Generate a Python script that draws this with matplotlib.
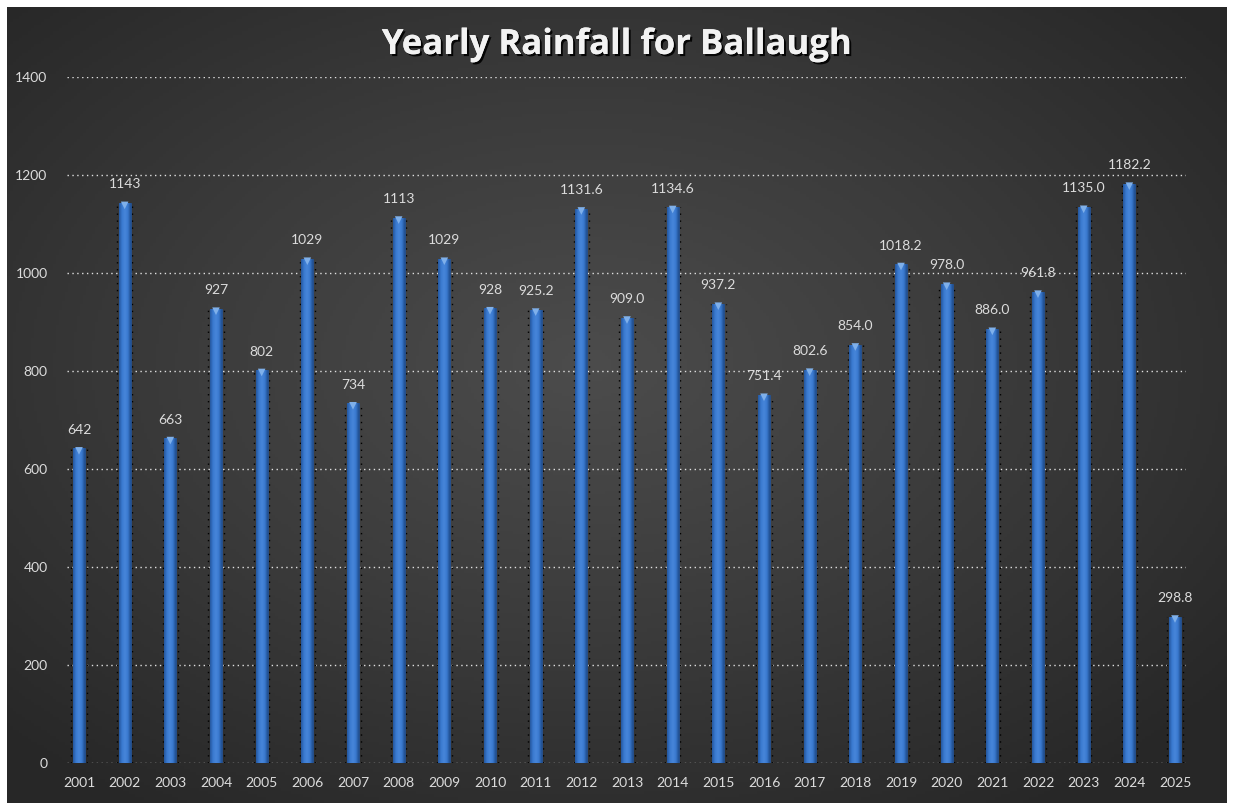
import numpy as np
import matplotlib
matplotlib.use("Agg")
import matplotlib.pyplot as plt
import matplotlib.patheffects as pe
from matplotlib.colors import LinearSegmentedColormap

years = [str(y) for y in range(2001, 2026)]
rainfall = [642, 1143, 663, 927, 802, 1029, 734, 1113, 1029, 928, 925.2, 1131.6,
            909.0, 1134.6, 937.2, 751.4, 802.6, 854.0, 1018.2, 978.0, 886.0,
            961.8, 1135.0, 1182.2, 298.8]
labels = ["642", "1143", "663", "927", "802", "1029", "734", "1113", "1029", "928",
          "925.2", "1131.6", "909.0", "1134.6", "937.2", "751.4", "802.6", "854.0",
          "1018.2", "978.0", "886.0", "961.8", "1135.0", "1182.2", "298.8"]
yticks = [0, 200, 400, 600, 800, 1000, 1200, 1400]

plt.rcParams['font.family'] = ['Lato', 'DejaVu Sans']

W, H = 1234, 811
fig = plt.figure(figsize=(W / 100, H / 100), dpi=100, facecolor='white')

# background panel with radial gradient
bg = fig.add_axes([7 / W, 8 / H, 1220 / W, 796 / H])
bg.set_axis_off()
nx, ny = 400, 260
gx, gy = np.meshgrid(np.linspace(-1, 1, nx), np.linspace(-1, 1, ny))
r = np.sqrt((gx + 0.05) ** 2 + (gy + 0.1) ** 2)
r = np.clip(r / 1.35, 0, 1)
cmap_bg = LinearSegmentedColormap.from_list('bg', ['#4c4c4c', '#3b3b3b', '#272727'])
bg.imshow(r, cmap=cmap_bg, aspect='auto', extent=[0, 1, 0, 1], vmin=0, vmax=1)
bg.set_xlim(0, 1)
bg.set_ylim(0, 1)

# main plot
ax = fig.add_axes([67 / W, 1 - 763 / H, (1186 - 67) / W, (763 - 77) / H])
ax.patch.set_alpha(0)
x = np.arange(len(years))

for s in ax.spines.values():
    s.set_visible(False)

ax.set_yticks(yticks)
ax.set_yticklabels([str(t) for t in yticks])
ax.set_xticks(x)
ax.set_xticklabels(years)
ax.tick_params(axis='both', length=0, colors='#dcdcdc', labelsize=10)
ax.tick_params(axis='y', pad=14)
ax.tick_params(axis='x', pad=10)

for t in yticks:
    ax.axhline(t, color='#e0e0e0', lw=1, ls=(0, (1, 2.5)), zorder=1)

bw = 0.26
# shadow dotted lines
ax.vlines(x - bw / 2 - 0.04, 0, rainfall, colors='black', lw=1, ls=(0, (1, 4)), zorder=2)
ax.vlines(x + bw / 2 + 0.04, 0, rainfall, colors='black', lw=1, ls=(0, (1, 4)), zorder=2)

bars = ax.bar(x, rainfall, width=bw, color='#3470c4', edgecolor='#244f8c', lw=0.6, zorder=3)

cmap_bar = LinearSegmentedColormap.from_list('bar', ['#24569c', '#3a7ad0', '#4786da', '#3a7ad0', '#1f4c8c'])
grad = np.linspace(0, 1, 64).reshape(1, -1)
for b in bars:
    x0, y0 = b.get_x(), b.get_y()
    w, h = b.get_width(), b.get_height()
    im = ax.imshow(grad, cmap=cmap_bar, aspect='auto', extent=[x0, x0 + w, y0, y0 + h],
                   zorder=3.5, interpolation='bicubic')
    im.set_clip_path(b)

ax.set_xlim(-12 / 45.67, 24 + 11 / 45.67)
ax.set_ylim(0, 1400)

# light caps at top of bars
ax.scatter(x, np.array(rainfall) - 5, marker='v', s=30, color='#7fb0ea', edgecolors='none', zorder=4)

for xi, v, lab in zip(x, rainfall, labels):
    ax.annotate(lab, (xi, v), xytext=(0, 9), textcoords='offset points', ha='center',
                va='bottom', color='#dcdcdc', fontsize=10, zorder=5)

title = fig.text(617 / W, 1 - 45 / H, 'Yearly Rainfall for Ballaugh', ha='center', va='center',
                 fontsize=25, fontweight='bold', color='#f2f2f2',
                 family=['Open Sans', 'DejaVu Sans'])
title.set_path_effects([pe.withSimplePatchShadow(offset=(1.5, -1.5), shadow_rgbFace='black', alpha=0.9),
                        pe.Normal()])

fig.savefig('out.png', dpi=100, facecolor='white')
